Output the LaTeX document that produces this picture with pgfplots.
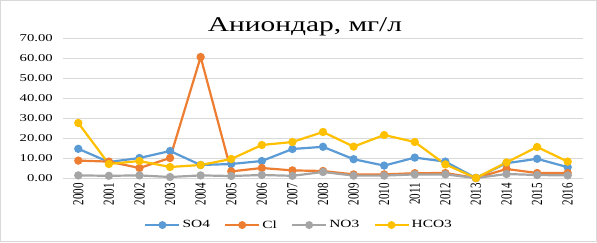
\documentclass[border=0pt]{standalone}
\usepackage{fontspec}
\setmainfont[FakeStretch=1.4]{Liberation Serif}
\newfontfamily\rotfont{Liberation Serif}
\usepackage{pgfplots}
\pgfplotsset{compat=1.18}
\definecolor{cSO}{HTML}{5B9BD5}
\definecolor{cCl}{HTML}{ED7D31}
\definecolor{cNO}{HTML}{A5A5A5}
\definecolor{cHC}{HTML}{FFC000}
\definecolor{cGrid}{HTML}{D9D9D9}
\newcommand\yr[1]{\scalebox{1}[1.4]{#1}}
\begin{document}
\begin{tikzpicture}
\useasboundingbox (0,0) rectangle (597pt,242pt);
\draw[cGrid, line width=0.8pt] (0.5pt,0.5pt) rectangle (596.5pt,241.5pt);
\node[anchor=base] at (305pt,211pt) {\fontsize{21}{24}\selectfont Аниондар, мг/л};
\begin{axis}[
  at={(63pt,64pt)}, anchor=south west,
  scale only axis, width=520pt, height=140pt,
  xmin=1999.5, xmax=2016.5, ymin=0, ymax=70,
  xtick={2000,...,2016},
  xticklabels={\yr{2000},\yr{2001},\yr{2002},\yr{2003},\yr{2004},\yr{2005},\yr{2006},\yr{2007},\yr{2008},\yr{2009},\yr{2010},\yr{2011},\yr{2012},\yr{2013},\yr{2014},\yr{2015},\yr{2016}},
  ytick={0,10,...,70},
  ymajorgrids, grid style={draw=cGrid, line width=0.8pt},
  axis line style={draw=none},
  major tick length=0pt,
  yticklabel style={/pgf/number format/.cd, fixed, fixed zerofill, precision=2, assume math mode=true,
     /tikz/.cd, font=\fontsize{10.5}{12}\selectfont, anchor=east, inner sep=0pt, xshift=-10pt},
  xticklabel style={font=\rotfont\fontsize{11}{12}\selectfont, yshift=-5pt, rotate=90, anchor=east, inner sep=0pt},
  every axis plot/.append style={line width=2.2pt, mark=*, mark size=3pt},
  legend columns=4,
  legend style={at={(0.454,-0.336)}, anchor=center, draw=none, fill=none,
     font=\fontsize{11}{12}\selectfont, inner sep=0pt,
     /tikz/every even column/.append style={column sep=12pt}},
  legend image code/.code={\draw[#1, line width=2.4pt, mark=none] (0pt,0pt) -- (34pt,0pt); \fill[#1, mark=none] (17pt,0pt) circle (2.8pt);},
]
\addplot[color=cSO, mark options={fill=cSO, draw=cSO}] coordinates {
(2000,14.6)(2001,8.0)(2002,10.0)(2003,13.5)(2004,6.5)(2005,7.0)(2006,8.5)(2007,14.5)(2008,15.6)(2009,9.4)(2010,6.2)(2011,10.2)(2012,8.2)(2013,0.0)(2014,7.4)(2015,9.6)(2016,5.4)};
\addlegendentry{SO4}
\addplot[color=cCl, mark options={fill=cCl, draw=cCl}] coordinates {
(2000,8.7)(2001,8.2)(2002,5.0)(2003,10.0)(2004,60.5)(2005,3.3)(2006,5.0)(2007,3.8)(2008,3.5)(2009,1.8)(2010,1.8)(2011,2.4)(2012,2.5)(2013,0.0)(2014,4.5)(2015,2.5)(2016,2.5)};
\addlegendentry{Cl}
\addplot[color=cNO, mark options={fill=cNO, draw=cNO}] coordinates {
(2000,1.3)(2001,1.1)(2002,1.3)(2003,0.5)(2004,1.3)(2005,1.0)(2006,1.5)(2007,1.1)(2008,3.0)(2009,1.2)(2010,1.2)(2011,1.8)(2012,1.8)(2013,0.0)(2014,2.0)(2015,1.5)(2016,1.3)};
\addlegendentry{NO3}
\addplot[color=cHC, mark options={fill=cHC, draw=cHC}] coordinates {
(2000,27.5)(2001,7.0)(2002,8.5)(2003,5.5)(2004,6.5)(2005,9.5)(2006,16.5)(2007,18.0)(2008,23.0)(2009,15.7)(2010,21.5)(2011,18.0)(2012,6.8)(2013,0.0)(2014,7.8)(2015,15.5)(2016,8.2)};
\addlegendentry{HCO3}
\end{axis}
\end{tikzpicture}
\end{document}
